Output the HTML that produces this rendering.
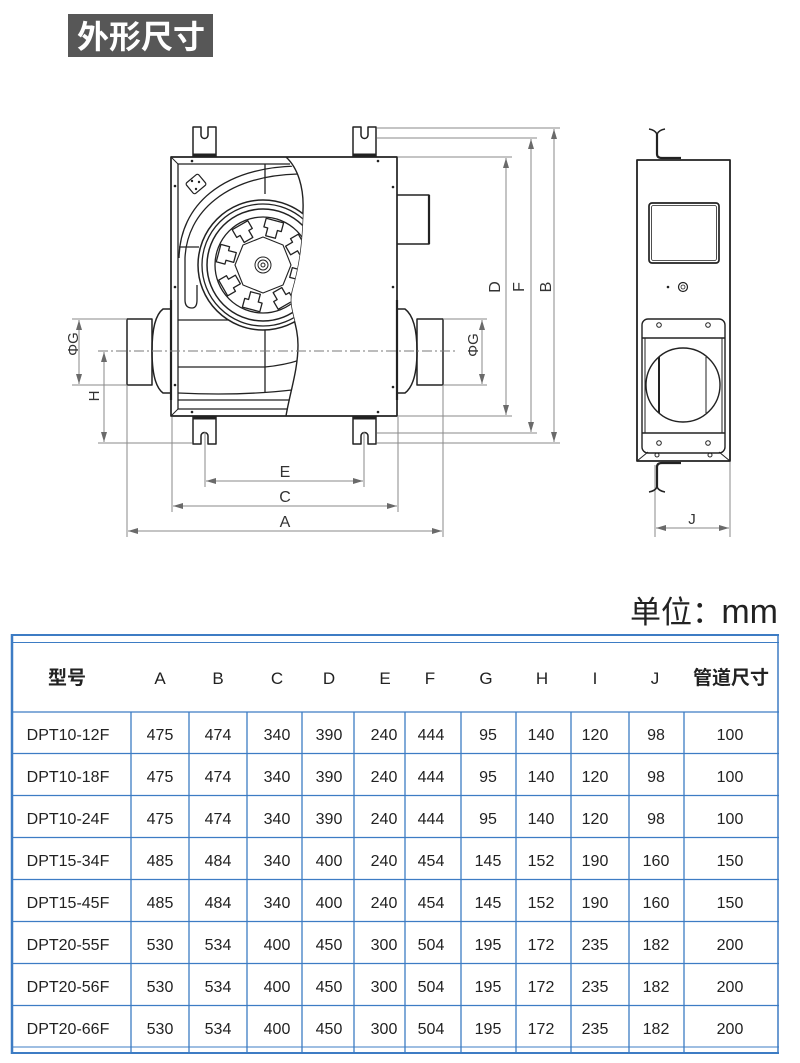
<!DOCTYPE html>
<html><head><meta charset="utf-8">
<style>
html,body{margin:0;padding:0;background:#fff;}
svg{display:block;}
text{font-family:"Liberation Sans","Noto Sans CJK SC",sans-serif;}
</style></head>
<body>
<svg width="800" height="1063" viewBox="0 0 800 1063" xmlns="http://www.w3.org/2000/svg">
<defs>
<marker id="ar" viewBox="0 0 10 6" refX="10" refY="3" markerWidth="10" markerHeight="6" markerUnits="userSpaceOnUse" orient="auto-start-reverse"><path d="M0,0 L10,3 L0,6 Z" fill="#6a6a6a"/></marker>
<clipPath id="hc"><path d="M178,164 L290,164 C300,175 304,190 303,210 C302,240 300,262 292,290 C287,308 298,322 298,345 C298,370 291,392 288,409 L178,409 Z"/></clipPath>
</defs>

<!-- Title -->
<rect x="68" y="14" width="145" height="43" fill="#575757"/>
<text x="141" y="48" text-anchor="middle" font-size="32" font-weight="bold" fill="#fff" style="font-family:'Noto Sans CJK SC',sans-serif">外形尺寸</text>

<!-- ============ FRONT VIEW ============ -->
<g fill="none" stroke="#222" stroke-linejoin="round">
  <!-- brackets top -->
  <path d="M193,157 L193,127 L201,127 L201,135 A3.5,3.5 0 0 0 208,135 L208,127 L216,127 L216,157" stroke-width="1.5"/>
  <path d="M353,157 L353,127 L361,127 L361,135 A3.5,3.5 0 0 0 368,135 L368,127 L376,127 L376,157" stroke-width="1.5"/>
  <line x1="193" y1="155" x2="216" y2="155" stroke-width="3"/>
  <line x1="353" y1="155" x2="376" y2="155" stroke-width="3"/>
  <!-- brackets bottom -->
  <path d="M193,416 L193,444 L201,444 L201,436 A3.5,3.5 0 0 1 208,436 L208,444 L216,444 L216,416" stroke-width="1.5"/>
  <path d="M353,416 L353,444 L361,444 L361,436 A3.5,3.5 0 0 1 368,436 L368,444 L376,444 L376,416" stroke-width="1.5"/>
  <line x1="193" y1="418" x2="216" y2="418" stroke-width="3"/>
  <line x1="353" y1="418" x2="376" y2="418" stroke-width="3"/>

  <!-- main body -->
  <rect x="171" y="157" width="226" height="259" stroke-width="1.7" fill="#fff"/>
  <!-- left frame -->
  <path d="M290,164 L178,164 L178,409 L288,409" stroke-width="1.3"/>
  <line x1="171" y1="157" x2="178" y2="164" stroke-width="1"/>
  <line x1="171" y1="416" x2="178" y2="409" stroke-width="1"/>
  <!-- S curve -->
  <path d="M286,157 C298,168 304,188 303,210 C302,240 300,262 292,290 C287,308 298,322 298,345 C298,370 290,392 286,416" stroke-width="1.4"/>

  <!-- fan interior -->
  <g clip-path="url(#hc)" stroke-width="1.3">
    <path d="M179,258 C180,205 222,168 296,166"/>
    <path d="M185,258 C187,212 226,176 298,174"/>
    <line x1="265" y1="164" x2="265" y2="194"/>
    <line x1="179" y1="247" x2="199" y2="247"/>
    <path d="M185,258 L185,300 Q185,308 192,308 Q197,308 197,300 L197,285"/>
    <circle cx="263" cy="265" r="65" fill="#fff" stroke-width="1.5"/>
    <circle cx="263" cy="265" r="61"/>
    <circle cx="263" cy="265" r="56" stroke-width="1.5"/>
    <circle cx="263" cy="265" r="48"/>
    <polygon points="291,265 283,285 263,293 243,285 235,265 243,245 263,237 283,245" stroke-width="1.1"/>
    <g transform="translate(263,265)" stroke-width="1.3">
      <path d="M-9,-46 L9,-46 L9,-37 L5,-37 L5,-29 L-5,-29 L-5,-37 L-9,-37 Z" transform="rotate(15)"/>
      <path d="M-9,-46 L9,-46 L9,-37 L5,-37 L5,-29 L-5,-29 L-5,-37 L-9,-37 Z" transform="rotate(60)"/>
      <path d="M-9,-46 L9,-46 L9,-37 L5,-37 L5,-29 L-5,-29 L-5,-37 L-9,-37 Z" transform="rotate(105)"/>
      <path d="M-9,-46 L9,-46 L9,-37 L5,-37 L5,-29 L-5,-29 L-5,-37 L-9,-37 Z" transform="rotate(150)"/>
      <path d="M-9,-46 L9,-46 L9,-37 L5,-37 L5,-29 L-5,-29 L-5,-37 L-9,-37 Z" transform="rotate(195)"/>
      <path d="M-9,-46 L9,-46 L9,-37 L5,-37 L5,-29 L-5,-29 L-5,-37 L-9,-37 Z" transform="rotate(240)"/>
      <path d="M-9,-46 L9,-46 L9,-37 L5,-37 L5,-29 L-5,-29 L-5,-37 L-9,-37 Z" transform="rotate(285)"/>
      <path d="M-9,-46 L9,-46 L9,-37 L5,-37 L5,-29 L-5,-29 L-5,-37 L-9,-37 Z" transform="rotate(330)"/>
    </g>
    <circle cx="263" cy="265" r="8" stroke-width="1"/>
    <circle cx="263" cy="265" r="5" stroke-width="1"/>
    <circle cx="263" cy="265" r="2" stroke-width="1"/>
    <line x1="178" y1="320" x2="228" y2="320"/>
    <line x1="265" y1="330" x2="265" y2="393"/>
    <path d="M178,367 L265,367 C276,366 288,364 300,360"/>
    <path d="M178,393 C220,395 262,394 300,389"/>
    <line x1="178" y1="400" x2="300" y2="400"/>
  </g>
  <!-- small plate -->
  <g transform="translate(196,184) rotate(-40)" stroke-width="1.2">
    <rect x="-8" y="-7" width="16" height="14" rx="2" fill="#fff"/>
  </g>
  <circle cx="192" cy="181" r="1.2" fill="#222" stroke="none"/>
  <circle cx="199" cy="182" r="1.2" fill="#222" stroke="none"/>
  <circle cx="196" cy="189" r="1.2" fill="#222" stroke="none"/>

  <!-- dots -->
  <g fill="#222" stroke="none">
    <circle cx="192" cy="161" r="1.3"/><circle cx="175" cy="186" r="1.3"/>
    <circle cx="175" cy="287" r="1.3"/><circle cx="175" cy="385" r="1.3"/>
    <circle cx="192" cy="412" r="1.3"/>
    <circle cx="378" cy="161" r="1.3"/><circle cx="393" cy="187" r="1.3"/>
    <circle cx="393" cy="287" r="1.3"/><circle cx="393" cy="387" r="1.3"/>
    <circle cx="378" cy="412" r="1.3"/>
  </g>

  <!-- right top duct -->
  <path d="M397,195 L429,195 L429,244 L397,244" stroke-width="1.5"/>
  <line x1="429" y1="195" x2="429" y2="244" stroke-width="2.2"/>
  <!-- right bottom duct -->
  <path d="M397,309 L405,309 C413,315 417,330 417,351 C417,372 413,387 405,393 L397,393" stroke-width="1.5"/>
  <rect x="417" y="319" width="26" height="66" stroke-width="1.5"/>
  <!-- left duct -->
  <path d="M171,309 L163,309 C155,315 152,330 152,351 C152,372 155,387 163,393 L171,393" stroke-width="1.5"/>
  <rect x="127" y="319" width="25" height="66" stroke-width="1.5"/>
  <line x1="171" y1="300" x2="171" y2="400" stroke-width="2.2"/>
  <line x1="397" y1="300" x2="397" y2="400" stroke-width="2.2"/>
</g>

<!-- center line -->
<line x1="98" y1="351" x2="455" y2="351" stroke="#7a7a7a" stroke-width="1" stroke-dasharray="10,3,2,3"/>

<!-- dimension lines -->
<g stroke="#8a8a8a" stroke-width="1" fill="none">
  <line x1="72" y1="319" x2="127" y2="319"/>
  <line x1="72" y1="385" x2="127" y2="385"/>
  <line x1="79" y1="320" x2="79" y2="384" marker-start="url(#ar)" marker-end="url(#ar)"/>
  <line x1="104" y1="352" x2="104" y2="442" marker-start="url(#ar)" marker-end="url(#ar)"/>
  <line x1="98" y1="443" x2="192" y2="443"/>
  <line x1="127" y1="385" x2="127" y2="537"/>
  <line x1="443" y1="385" x2="443" y2="537"/>
  <line x1="172" y1="417" x2="172" y2="512"/>
  <line x1="398" y1="417" x2="398" y2="512"/>
  <line x1="205" y1="432" x2="205" y2="487"/>
  <line x1="364" y1="432" x2="364" y2="487"/>
  <line x1="206" y1="481" x2="363" y2="481" marker-start="url(#ar)" marker-end="url(#ar)"/>
  <line x1="173" y1="506" x2="397" y2="506" marker-start="url(#ar)" marker-end="url(#ar)"/>
  <line x1="128" y1="531" x2="442" y2="531" marker-start="url(#ar)" marker-end="url(#ar)"/>
  <line x1="377" y1="128" x2="560" y2="128"/>
  <line x1="377" y1="138" x2="537" y2="138"/>
  <line x1="398" y1="157" x2="512" y2="157"/>
  <line x1="398" y1="416" x2="512" y2="416"/>
  <line x1="377" y1="433" x2="537" y2="433"/>
  <line x1="377" y1="443" x2="560" y2="443"/>
  <line x1="506" y1="158" x2="506" y2="415" marker-start="url(#ar)" marker-end="url(#ar)"/>
  <line x1="531" y1="139" x2="531" y2="432" marker-start="url(#ar)" marker-end="url(#ar)"/>
  <line x1="554" y1="129" x2="554" y2="442" marker-start="url(#ar)" marker-end="url(#ar)"/>
  <line x1="443" y1="319" x2="487" y2="319"/>
  <line x1="443" y1="385" x2="487" y2="385"/>
  <line x1="482" y1="320" x2="482" y2="384" marker-start="url(#ar)" marker-end="url(#ar)"/>
  <line x1="655" y1="465" x2="655" y2="537"/>
  <line x1="730" y1="461" x2="730" y2="537"/>
  <line x1="656" y1="528" x2="729" y2="528" marker-start="url(#ar)" marker-end="url(#ar)"/>
</g>

<!-- dimension labels -->
<g fill="#333" font-size="16" text-anchor="middle">
  <text x="285" y="477">E</text>
  <text x="285" y="502">C</text>
  <text x="285" y="527">A</text>
  <text x="692" y="524" font-size="15">J</text>
  <text transform="translate(78,344) rotate(-90)" font-size="15">ΦG</text>
  <text transform="translate(99,396) rotate(-90)" font-size="15">H</text>
  <text transform="translate(478,345) rotate(-90)" font-size="15">ΦG</text>
  <text transform="translate(500,287) rotate(-90)">D</text>
  <text transform="translate(524,287) rotate(-90)">F</text>
  <text transform="translate(551,287) rotate(-90)">B</text>
</g>

<!-- ============ SIDE VIEW ============ -->
<g fill="none" stroke="#222" stroke-linejoin="round">
  <rect x="637" y="160" width="93" height="301" stroke-width="1.8"/>
  <path d="M649,129 Q655,130 657,134 Q659,130 665,129" stroke-width="1.6"/>
  <path d="M657,134 L657,154 Q657,158 662,158 L681,158" stroke-width="2.2"/>
  <path d="M681,463 L662,463 Q657,463 657,467 L657,487" stroke-width="2.2"/>
  <path d="M649,492 Q655,491 657,487 Q659,491 665,492" stroke-width="1.6"/>
  <rect x="649" y="203" width="70" height="60" rx="3" stroke-width="1.7"/>
  <rect x="651.5" y="205.5" width="65" height="55" rx="2" stroke-width="0.8"/>
  <circle cx="683" cy="287" r="4.5" stroke-width="1.2"/>
  <circle cx="683" cy="287" r="2" stroke-width="0.8"/>
  <rect x="642" y="319" width="83" height="134" rx="6" stroke-width="1.4"/>
  <line x1="642" y1="338" x2="725" y2="338" stroke-width="1.4"/>
  <line x1="642" y1="433" x2="725" y2="433" stroke-width="1.4"/>
  <line x1="645" y1="338" x2="645" y2="433" stroke-width="1"/>
  <line x1="722" y1="338" x2="722" y2="433" stroke-width="1"/>
  <line x1="637" y1="461" x2="648" y2="452" stroke-width="1"/>
  <line x1="730" y1="461" x2="719" y2="452" stroke-width="1"/>
  <circle cx="683" cy="385" r="37" stroke-width="1.4" fill="#fff"/>
  <line x1="659" y1="357" x2="659" y2="413" stroke-width="2"/>
  <line x1="706" y1="357" x2="706" y2="413" stroke-width="1"/>
  <g stroke-width="1">
    <circle cx="659" cy="325" r="2.3"/><circle cx="708" cy="325" r="2.3"/>
    <circle cx="659" cy="443" r="2.3"/><circle cx="708" cy="443" r="2.3"/>
    <circle cx="657" cy="455" r="2"/><circle cx="710" cy="455" r="2"/>
  </g>
</g>
<circle cx="668" cy="287" r="1.3" fill="#222"/>

<!-- ============ UNIT ============ -->
<text x="630" y="623" font-size="31" fill="#222" style="font-family:'Noto Sans CJK SC',sans-serif">单位：</text>
<text x="778" y="623" font-size="34" fill="#222" text-anchor="end">mm</text>

<!-- ============ TABLE ============ -->
<g stroke="#3d7cc4" fill="none">
  <line x1="11" y1="635" x2="779" y2="635" stroke-width="2"/>
  <line x1="11" y1="642.5" x2="779" y2="642.5" stroke-width="1"/>
  <line x1="12" y1="634" x2="12" y2="1054" stroke-width="2.5"/>
  <line x1="778" y1="634" x2="778" y2="1054" stroke-width="1.5"/>
  <line x1="11" y1="712" x2="779" y2="712" stroke-width="1.3"/>
  <line x1="11" y1="753.5" x2="779" y2="753.5" stroke-width="1.3"/>
  <line x1="11" y1="795.5" x2="779" y2="795.5" stroke-width="1.3"/>
  <line x1="11" y1="837.5" x2="779" y2="837.5" stroke-width="1.3"/>
  <line x1="11" y1="879.5" x2="779" y2="879.5" stroke-width="1.3"/>
  <line x1="11" y1="921.5" x2="779" y2="921.5" stroke-width="1.3"/>
  <line x1="11" y1="963.5" x2="779" y2="963.5" stroke-width="1.3"/>
  <line x1="11" y1="1005.5" x2="779" y2="1005.5" stroke-width="1.3"/>
  <line x1="11" y1="1047" x2="779" y2="1047" stroke-width="1"/>
  <line x1="11" y1="1053" x2="779" y2="1053" stroke-width="2"/>
  <g stroke-width="1.3">
    <line x1="131" y1="712" x2="131" y2="1053"/>
    <line x1="189" y1="712" x2="189" y2="1053"/>
    <line x1="247" y1="712" x2="247" y2="1053"/>
    <line x1="302" y1="712" x2="302" y2="1053"/>
    <line x1="354" y1="712" x2="354" y2="1053"/>
    <line x1="405" y1="712" x2="405" y2="1053"/>
    <line x1="461" y1="712" x2="461" y2="1053"/>
    <line x1="516" y1="712" x2="516" y2="1053"/>
    <line x1="571" y1="712" x2="571" y2="1053"/>
    <line x1="629" y1="712" x2="629" y2="1053"/>
    <line x1="684" y1="712" x2="684" y2="1053"/>
  </g>
</g>

<!-- header -->
<g fill="#222" text-anchor="middle" font-size="17">
  <text x="67" y="684" font-size="19" font-weight="bold" style="font-family:'Noto Sans CJK SC',sans-serif">型号</text>
  <text x="160" y="684">A</text>
  <text x="218" y="684">B</text>
  <text x="277" y="684">C</text>
  <text x="329" y="684">D</text>
  <text x="385" y="684">E</text>
  <text x="430" y="684">F</text>
  <text x="486" y="684">G</text>
  <text x="542" y="684">H</text>
  <text x="595" y="684">I</text>
  <text x="655" y="684">J</text>
  <text x="731" y="684" font-size="19" font-weight="bold" style="font-family:'Noto Sans CJK SC',sans-serif">管道尺寸</text>
</g>

<!-- rows -->
<g fill="#222" text-anchor="middle" font-size="16">
  <g transform="translate(0,740)">
    <text x="68">DPT10-12F</text><text x="160">475</text><text x="218">474</text><text x="277">340</text><text x="329">390</text><text x="384">240</text><text x="431">444</text><text x="488">95</text><text x="541">140</text><text x="595">120</text><text x="656">98</text><text x="730">100</text>
  </g>
  <g transform="translate(0,782)">
    <text x="68">DPT10-18F</text><text x="160">475</text><text x="218">474</text><text x="277">340</text><text x="329">390</text><text x="384">240</text><text x="431">444</text><text x="488">95</text><text x="541">140</text><text x="595">120</text><text x="656">98</text><text x="730">100</text>
  </g>
  <g transform="translate(0,824)">
    <text x="68">DPT10-24F</text><text x="160">475</text><text x="218">474</text><text x="277">340</text><text x="329">390</text><text x="384">240</text><text x="431">444</text><text x="488">95</text><text x="541">140</text><text x="595">120</text><text x="656">98</text><text x="730">100</text>
  </g>
  <g transform="translate(0,866)">
    <text x="68">DPT15-34F</text><text x="160">485</text><text x="218">484</text><text x="277">340</text><text x="329">400</text><text x="384">240</text><text x="431">454</text><text x="488">145</text><text x="541">152</text><text x="595">190</text><text x="656">160</text><text x="730">150</text>
  </g>
  <g transform="translate(0,908)">
    <text x="68">DPT15-45F</text><text x="160">485</text><text x="218">484</text><text x="277">340</text><text x="329">400</text><text x="384">240</text><text x="431">454</text><text x="488">145</text><text x="541">152</text><text x="595">190</text><text x="656">160</text><text x="730">150</text>
  </g>
  <g transform="translate(0,950)">
    <text x="68">DPT20-55F</text><text x="160">530</text><text x="218">534</text><text x="277">400</text><text x="329">450</text><text x="384">300</text><text x="431">504</text><text x="488">195</text><text x="541">172</text><text x="595">235</text><text x="656">182</text><text x="730">200</text>
  </g>
  <g transform="translate(0,992)">
    <text x="68">DPT20-56F</text><text x="160">530</text><text x="218">534</text><text x="277">400</text><text x="329">450</text><text x="384">300</text><text x="431">504</text><text x="488">195</text><text x="541">172</text><text x="595">235</text><text x="656">182</text><text x="730">200</text>
  </g>
  <g transform="translate(0,1034)">
    <text x="68">DPT20-66F</text><text x="160">530</text><text x="218">534</text><text x="277">400</text><text x="329">450</text><text x="384">300</text><text x="431">504</text><text x="488">195</text><text x="541">172</text><text x="595">235</text><text x="656">182</text><text x="730">200</text>
  </g>
</g>
</svg>
</body></html>
